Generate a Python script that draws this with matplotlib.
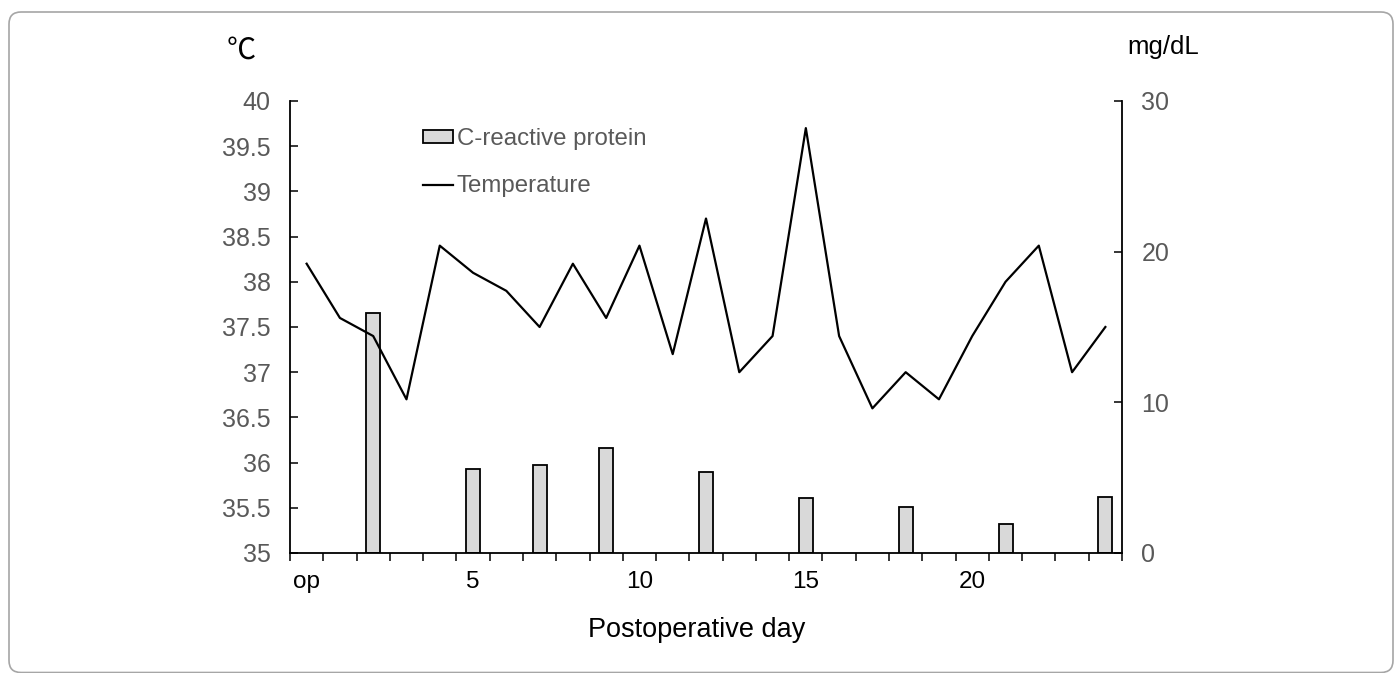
import matplotlib
matplotlib.use('Agg')
import matplotlib.pyplot as plt
from matplotlib.patches import FancyBboxPatch, Patch
from matplotlib.lines import Line2D
from matplotlib.transforms import IdentityTransform
import numpy as np

plt.rcParams['font.family'] = ['Liberation Sans', 'DejaVu Sans']

# postoperative day 0 (op) .. 24
days = list(range(25))
day_labels = {0: 'op', 5: '5', 10: '10', 15: '15', 20: '20'}
temperature = [38.2, 37.6, 37.4, 36.7, 38.4, 38.1, 37.9, 37.5, 38.2, 37.6,
               38.4, 37.2, 38.7, 37.0, 37.4, 39.7, 37.4, 36.6, 37.0, 36.7,
               37.4, 38.0, 38.4, 37.0, 37.5]
crp_days = [2, 5, 7, 9, 12, 15, 18, 21, 24]
crp = [15.9, 5.55, 5.85, 6.95, 5.35, 3.65, 3.05, 1.9, 3.75]

grey = '#595959'

fig = plt.figure(figsize=(13.95, 6.73), dpi=100)
ax = fig.add_axes([290/1395, 1-553/673, 832/1395, 452/673])
ax2 = ax.twinx()
ax.set_zorder(ax2.get_zorder() + 1)
ax.patch.set_visible(False)

# bars (CRP) on right axis, behind the line
ax2.bar(crp_days, crp, width=0.42, color='#d9d9d9', edgecolor='black', linewidth=1.3)
ax.plot(days, temperature, color='black', linewidth=1.6)

ax.set_xlim(-0.5, 24.5)
ax.set_ylim(35, 40)
ax2.set_ylim(0, 30)

ax.set_yticks(np.arange(35, 40.01, 0.5))
ax.set_yticklabels(['35', '35.5', '36', '36.5', '37', '37.5', '38', '38.5', '39', '39.5', '40'])
ax2.set_yticks([0, 10, 20, 30])

ax.set_xticks(list(day_labels.keys()))
ax.set_xticklabels(list(day_labels.values()))
ax.set_xticks(np.arange(-0.5, 25, 1), minor=True)

ax.tick_params(axis='x', which='major', length=0, pad=13, labelsize=17.5, labelcolor='black')
ax.tick_params(axis='x', which='minor', length=6, width=1.1, direction='out', color='black')
ax.tick_params(axis='y', direction='in', length=5.5, width=1.1, pad=14, labelsize=18, labelcolor=grey)
ax2.tick_params(axis='y', direction='in', length=5.5, width=1.1, pad=14, labelsize=18, labelcolor=grey)

for a in (ax, ax2):
    a.spines['top'].set_visible(False)
    for s in ('left', 'right', 'bottom'):
        a.spines[s].set_linewidth(1.3)
ax.spines['right'].set_visible(False)
ax2.spines['left'].set_visible(False)
ax2.spines['bottom'].set_visible(False)

ax.set_xlabel('Postoperative day', fontsize=19.5)
ax.xaxis.label.set_va('center')
ax.xaxis.set_label_coords((696.5-290)/832, -(630-553)/452)

fig.text(241/1395, 1-51/673, '\u2103', fontsize=21, ha='center', va='center',
         family=['Noto Sans CJK JP', 'DejaVu Sans'])
fig.text(1163/1395, 1-47/673, 'mg/dL', fontsize=18.5, ha='center', va='center')

handles = [Patch(facecolor='#d9d9d9', edgecolor='black', linewidth=1.3),
           Line2D([], [], color='black', linewidth=1.6)]
leg = ax.legend(handles, ['C-reactive protein', 'Temperature'], loc='upper left',
                bbox_to_anchor=(423/1395, 1-128/673), bbox_transform=fig.transFigure,
                frameon=False, fontsize=17.3, handlelength=1.25, handleheight=0.5,
                handletextpad=0.15, labelspacing=1.05, borderpad=0, borderaxespad=0)
for t in leg.get_texts():
    t.set_color(grey)

border = FancyBboxPatch((9, 0.5), 1384, 660.5, boxstyle='round,pad=0,rounding_size=12',
                        transform=IdentityTransform(), facecolor='none',
                        edgecolor='#a6a6a6', linewidth=1.2)
fig.patches.append(border)

fig.savefig('out.png', dpi=100)
